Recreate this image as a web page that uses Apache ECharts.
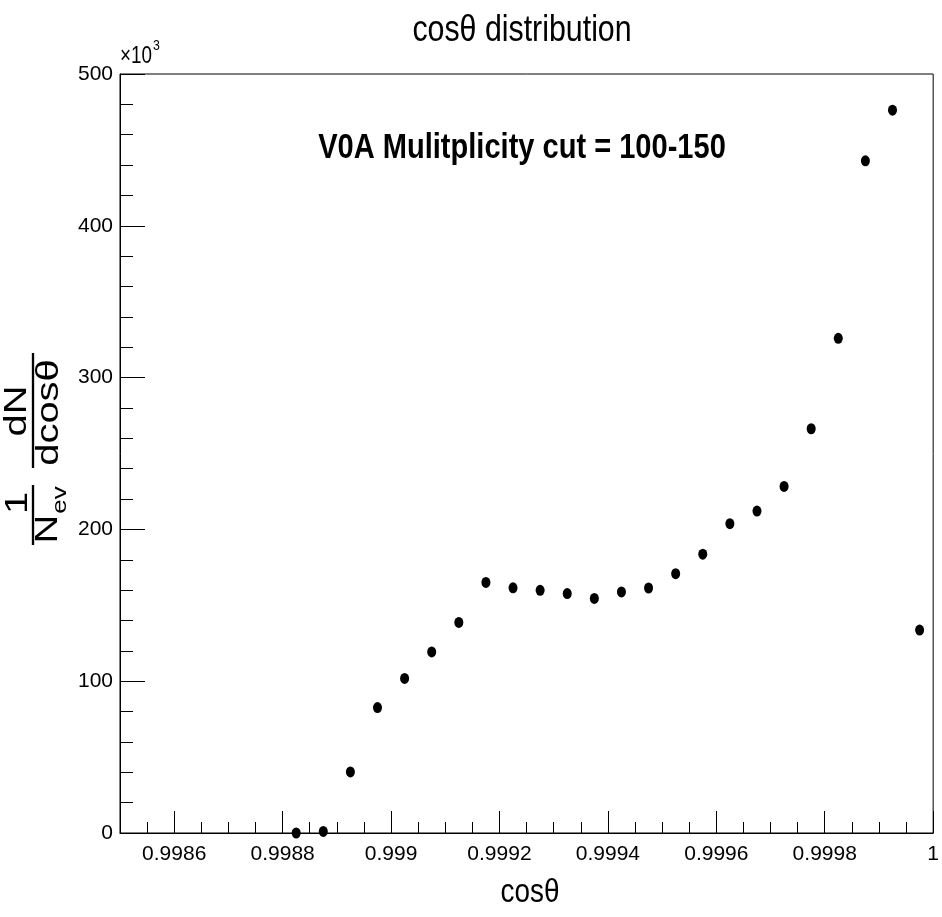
<!DOCTYPE html>
<html><head><meta charset="utf-8">
<script src="https://cdn.jsdelivr.net/npm/echarts@6/dist/echarts.min.js"></script>
<style>html,body{margin:0;padding:0;background:#fff}#c{width:942px;height:917px}</style>
</head><body><div id="c"></div>
<script>
// bin centres (cosθ)
const cosTheta = [0.998825, 0.998875, 0.998925, 0.998975, 0.999025, 0.999075, 0.999125, 0.999175,
  0.999225, 0.999275, 0.999325, 0.999375, 0.999425, 0.999475, 0.999525, 0.999575,
  0.999625, 0.999675, 0.999725, 0.999775, 0.999825, 0.999875, 0.999925, 0.999975];
// 1/N_ev dN/dcosθ in units of 10^3
const yieldK = [0, 1, 40.2, 82.6, 101.8, 119.3, 138.7, 165.1,
  161.5, 159.9, 157.7, 154.5, 158.8, 161.4, 170.8, 183.7,
  203.8, 212.1, 228.3, 266.3, 325.9, 442.8, 476.2, 133.7];
const xMajorTicks = [0.9986, 0.9988, 0.999, 0.9992, 0.9994, 0.9996, 0.9998, 1];
const yTicks = [0, 100, 200, 300, 400, 500];

const FONT = '"Liberation Sans", Arial, Helvetica, sans-serif';
const SQ = 0.82; // horizontal squeeze of the reference's lettering

const chart = echarts.init(document.getElementById('c'), null, {renderer: 'canvas'});
const fmt = v => String(parseFloat(Number(v).toFixed(6)));

const option = {
  backgroundColor: '#fff',
  animation: false,
  grid: {left: 120, right: 2, top: 74, bottom: 84, show: true, borderColor: '#000', borderWidth: 1, backgroundColor: 'transparent'},
  xAxis: [{
    type: 'value', min: 0.9985, max: 1.0,
    axisLine: {show: true, onZero: false, lineStyle: {color: '#000', width: 1}},
    axisTick: {show: true, inside: true, length: 22, lineStyle: {color: '#000'}, customValues: xMajorTicks},
    axisLabel: {show: true, customValues: xMajorTicks, formatter: fmt, color: '#000', fontSize: 21, fontFamily: FONT, margin: 11},
    splitLine: {show: false}
  }, {
    type: 'value', min: 0.9985, max: 1.0, interval: 0.00005, position: 'bottom',
    axisLine: {show: false},
    axisTick: {show: true, inside: true, length: 11, lineStyle: {color: '#000'}},
    axisLabel: {show: false},
    splitLine: {show: false}
  }],
  yAxis: {
    type: 'value', min: 0, max: 500, interval: 100,
    axisLine: {show: true, lineStyle: {color: '#000', width: 1}},
    axisTick: {show: true, inside: true, length: 25, lineStyle: {color: '#000'}},
    minorTick: {show: true, splitNumber: 5, length: 13, lineStyle: {color: '#000'}},
    axisLabel: {color: '#000', fontSize: 21, fontFamily: FONT, margin: 7, customValues: yTicks},
    splitLine: {show: false}
  },
  series: [{
    type: 'scatter', xAxisIndex: 0,
    symbol: 'circle', symbolSize: [9, 11],
    itemStyle: {color: '#000', opacity: 1},
    data: cosTheta.map((x, i) => [x, yieldK[i]])
  }],
  graphic: [
    {type: 'text', x: 522, y: 31, scaleX: SQ, style: {text: 'cosθ distribution', fill: '#000', fontSize: 37, fontFamily: FONT, align: 'center', verticalAlign: 'middle'}},
    {type: 'text', x: 120, y: 57, scaleX: SQ, style: {text: '×10', fill: '#000', fontSize: 23, fontFamily: FONT, align: 'left', verticalAlign: 'middle'}},
    {type: 'text', x: 153, y: 46, scaleX: SQ, style: {text: '3', fill: '#000', fontSize: 15, fontFamily: FONT, align: 'left', verticalAlign: 'middle'}},
    {type: 'text', x: 522, y: 148, scaleX: 0.83, style: {text: 'V0A Mulitplicity cut = 100-150', fill: '#000', fontSize: 35, fontWeight: 'bold', fontFamily: FONT, align: 'center', verticalAlign: 'middle'}},
    {type: 'text', x: 530, y: 893, scaleX: SQ, style: {text: 'cosθ', fill: '#000', fontSize: 34, fontFamily: FONT, align: 'center', verticalAlign: 'middle'}},
    {type: 'group', x: 33, y: 450, rotation: Math.PI / 2, scaleX: 1, scaleY: 0.78, children: [
      {type: 'text', x: -53, y: -19, style: {text: '1', fill: '#000', fontSize: 40, fontFamily: FONT, align: 'center', verticalAlign: 'middle'}},
      {type: 'text', x: -79, y: 20, style: {text: 'N', fill: '#000', fontSize: 40, fontFamily: FONT, align: 'center', verticalAlign: 'middle'}},
      {type: 'text', x: -50, y: 35, style: {text: 'ev', fill: '#000', fontSize: 26, fontFamily: FONT, align: 'center', verticalAlign: 'middle'}},
      {type: 'line', shape: {x1: -95, y1: 0, x2: -35, y2: 0}, style: {stroke: '#000', lineWidth: 3}},
      {type: 'text', x: 39, y: -20.5, style: {text: 'dN', fill: '#000', fontSize: 40, fontFamily: FONT, align: 'center', verticalAlign: 'middle'}},
      {type: 'text', x: 37.5, y: 21, style: {text: 'dcosθ', fill: '#000', fontSize: 40, fontFamily: FONT, align: 'center', verticalAlign: 'middle'}},
      {type: 'line', shape: {x1: -18, y1: 0, x2: 97, y2: 0}, style: {stroke: '#000', lineWidth: 3}}
    ]}
  ]
};
chart.setOption(option);
</script>
</body></html>
